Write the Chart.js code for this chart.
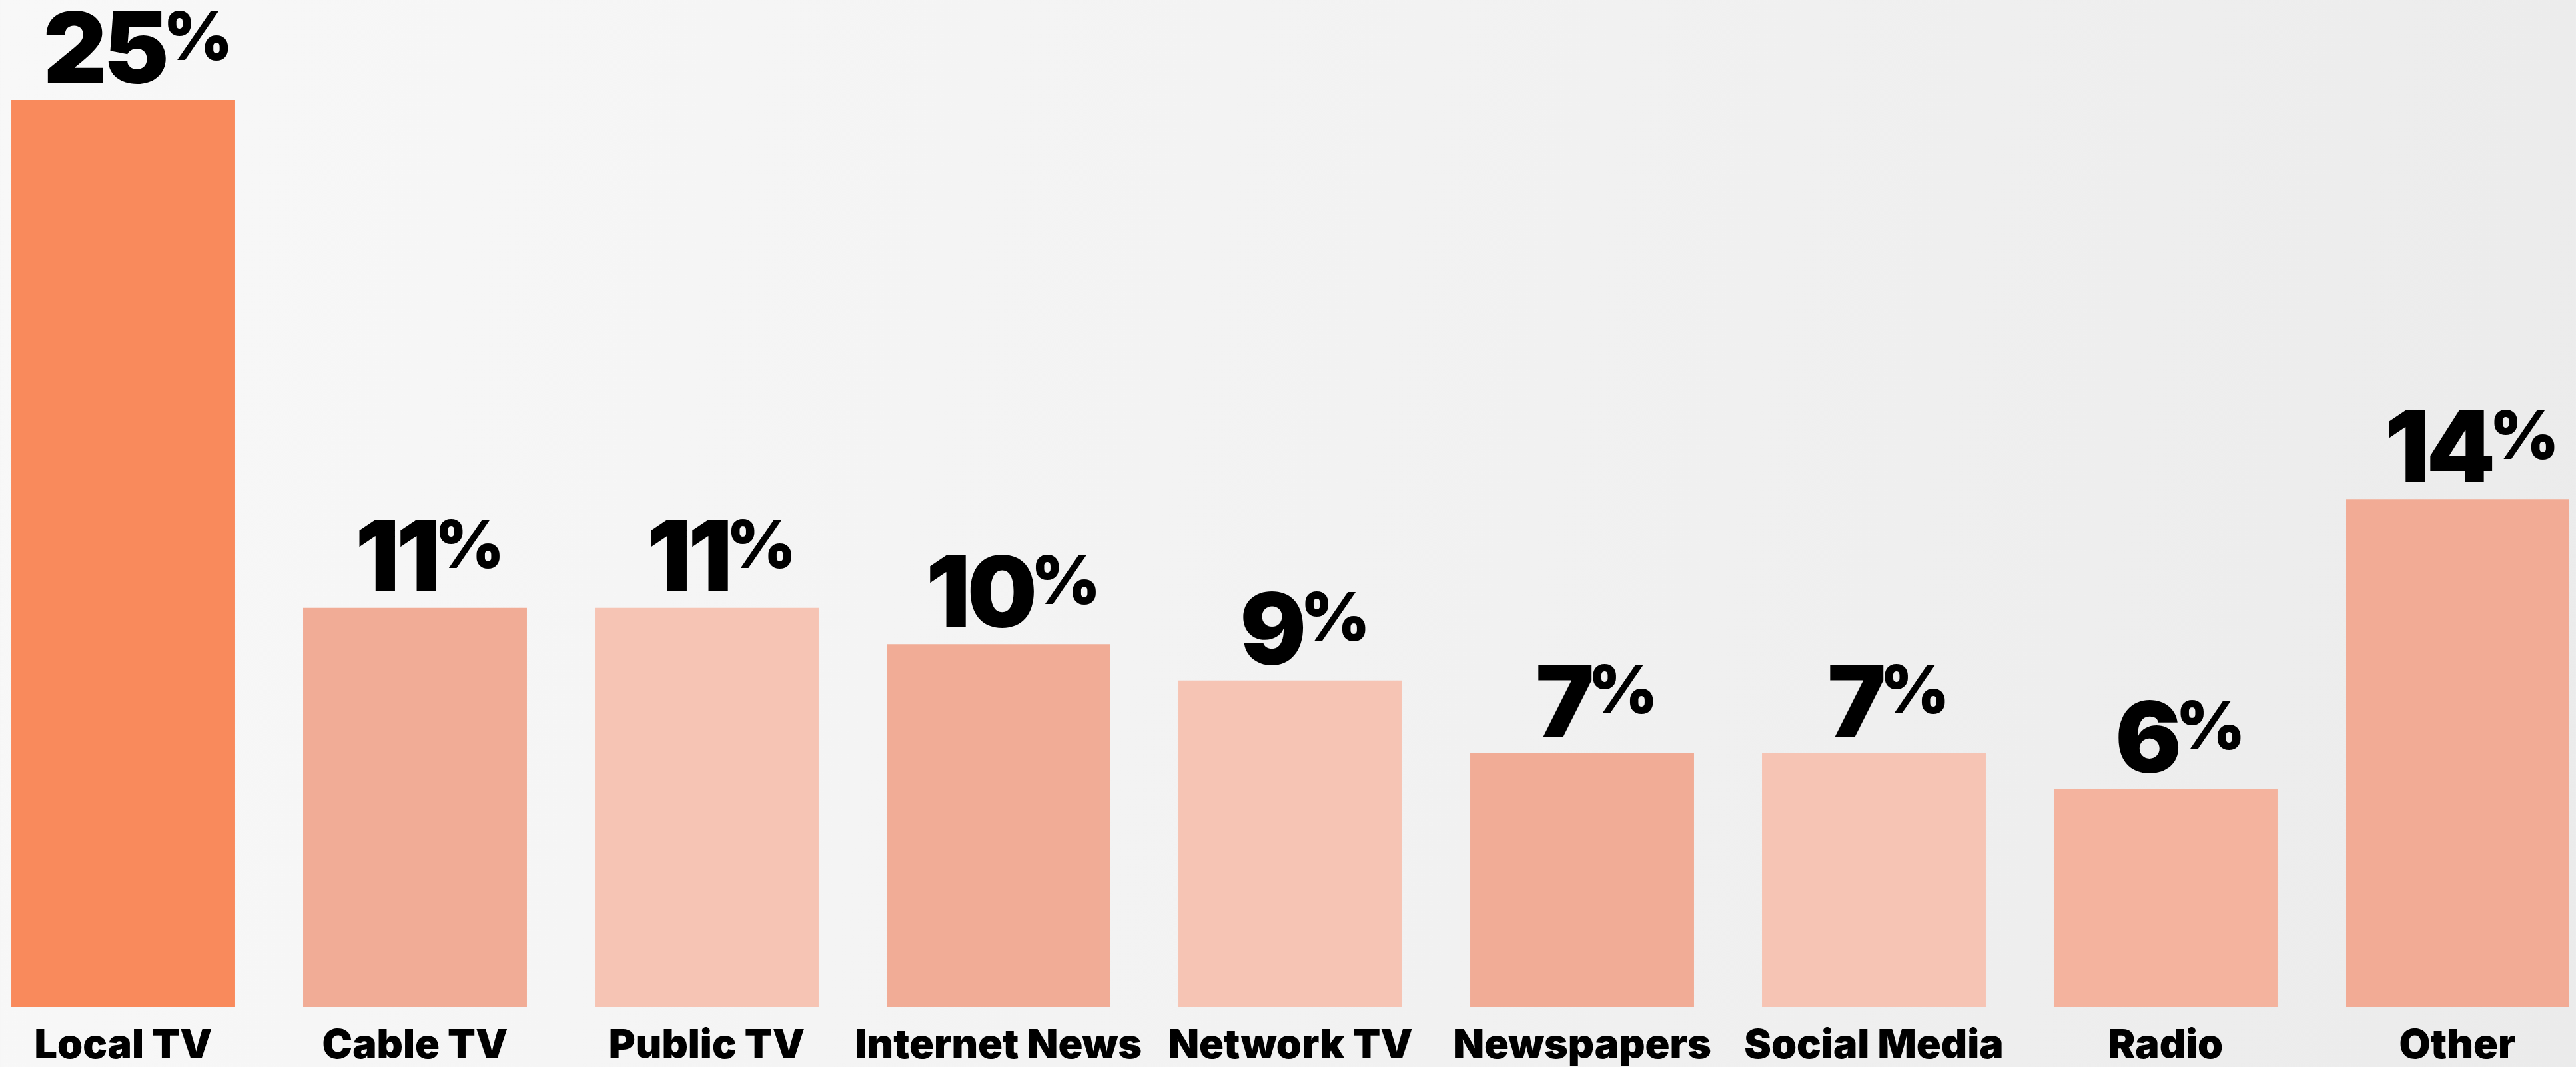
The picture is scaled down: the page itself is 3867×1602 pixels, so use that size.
<!DOCTYPE html>
<html>
<head>
<meta charset="utf-8">
<title>News sources</title>
<script src="https://cdn.jsdelivr.net/npm/chart.js@4.4.1/dist/chart.umd.min.js"></script>
<style>
    html, body {
        margin: 0;
        padding: 0;
        width: 3867px;
        height: 1602px;
        overflow: hidden;
    }
    body {
        background: linear-gradient(100deg, #f8f8f8 0%, #f3f3f3 45%, #ebebeb 100%);
    }
    /* the outer bars run a little past both edges */
    #wrap {
        position: absolute;
        left: -34px;
        top: 0;
        width: 3942px;
        height: 1602px;
    }
</style>
</head>
<body>
<div id="wrap"><canvas id="barChart"></canvas></div>
<script>
const categories = ["Local TV", "Cable TV", "Public TV", "Internet News", "Network TV", "Newspapers", "Social Media", "Radio", "Other"];
const shares = [25, 11, 11, 10, 9, 7, 7, 6, 14];
const barColors = ["#f98a5c", "#f1ac96", "#f6c4b4", "#f1ac96", "#f6c4b4", "#f1ac96", "#f6c4b4", "#f4b39e", "#f2ab95"];

const FONT = "Inter, 'Liberation Sans', sans-serif";

// value above each bar (big number, smaller raised %) and the name underneath
const barLabels = {
    id: "barLabels",
    afterDatasetsDraw(chart) {
        const ctx = chart.ctx;
        const area = chart.chartArea;
        const bars = chart.getDatasetMeta(0).data;
        ctx.save();
        ctx.fillStyle = "#000";
        ctx.textBaseline = "alphabetic";
        bars.forEach((bar, i) => {
            const num = String(shares[i]);
            ctx.letterSpacing = "-5px";
            ctx.font = "900 148px " + FONT;
            const wNum = ctx.measureText(num).width;
            ctx.letterSpacing = "0px";
            ctx.font = "900 100px " + FONT;
            const wPct = ctx.measureText("%").width;
            const gap = -4;
            const left = bar.x + 22 - (wNum + gap + wPct) / 2;
            const base = bar.y - 25;

            ctx.textAlign = "left";
            ctx.letterSpacing = "-5px";
            ctx.font = "900 148px " + FONT;
            ctx.fillText(num, left, base);
            ctx.letterSpacing = "0px";
            ctx.font = "900 100px " + FONT;
            ctx.fillText("%", left + wNum + gap, base - 35);

            ctx.textAlign = "center";
            ctx.font = "900 61px " + FONT;
            ctx.fillText(categories[i], bar.x, area.bottom + 77);
        });
        ctx.restore();
    },
};

document.addEventListener("DOMContentLoaded", function () {
    const ctx = document.getElementById("barChart").getContext("2d");
    new Chart(ctx, {
        type: "bar",
        data: {
            labels: categories,
            datasets: [
                {
                    label: "Share",
                    data: shares,
                    backgroundColor: barColors,
                    borderWidth: 0,
                    barPercentage: 0.767,
                    categoryPercentage: 1,
                },
            ],
        },
        options: {
            responsive: true,
            maintainAspectRatio: false,
            animation: false,
            layout: { padding: { top: 150, bottom: 90, left: 0, right: 0 } },
            plugins: {
                legend: { display: false },
                tooltip: { enabled: false },
            },
            scales: {
                x: { display: false },
                y: { display: false, min: 0, max: 25 },
            },
        },
        plugins: [barLabels],
    });
});
</script>
</body>
</html>
